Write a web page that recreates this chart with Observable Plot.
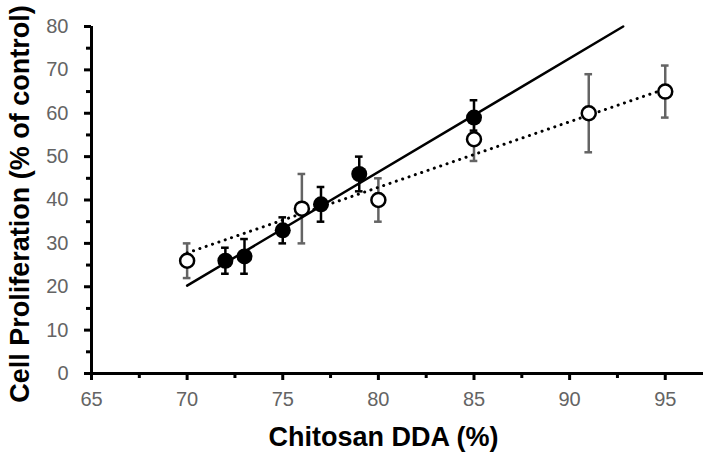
<!DOCTYPE html>
<html><head><meta charset="utf-8">
<script src="https://cdn.jsdelivr.net/npm/d3@7"></script>
<script src="https://cdn.jsdelivr.net/npm/@observablehq/plot@0.6"></script>
<style>html,body{margin:0;padding:0;background:#fff;}</style>
</head><body><div id="chart"></div>
<script>
// Filled circles (solid fit)
const filledDDA = [72, 73, 75, 77, 79, 85];
const filledProlif = [26, 27, 33, 39, 46, 59];
const filledLow = [23, 23, 30, 35, 42, 56];
const filledHigh = [29, 31, 36, 43, 50, 63];
// Open circles (dotted fit)
const openDDA = [70, 76, 80, 85, 91, 95];
const openProlif = [26, 38, 40, 54, 60, 65];
const openLow = [22, 30, 35, 49, 51, 59];
const openHigh = [30, 46, 45, 59, 69, 71];
// Trend lines
const trendFilledX = [70, 92.8];
const trendFilledY = [20.25, 80];
const trendOpenX = [70, 95];
const trendOpenY = [27.8, 65.6];
// Ticks
const xTicks = [65, 70, 75, 80, 85, 90, 95];
const xMinor = [67.5, 72.5, 77.5, 82.5, 87.5, 92.5];
const yTicks = [0, 10, 20, 30, 40, 50, 60, 70, 80];
const yMinor = [5, 15, 25, 35, 45, 55, 65, 75];
const xTitle = "Chitosan DDA (%)";
const yTitle = "Cell Proliferation (% of control)";

const filled = filledDDA.map((x, i) => ({x, y: filledProlif[i], lo: filledLow[i], hi: filledHigh[i]}));
const open = openDDA.map((x, i) => ({x, y: openProlif[i], lo: openLow[i], hi: openHigh[i]}));
const trendFilled = trendFilledX.map((x, i) => ({x, y: trendFilledY[i]}));
const trendOpen = trendOpenX.map((x, i) => ({x, y: trendOpenY[i]}));
const capHalf = 0.2;
const caps = (data) => data.flatMap(d => [{x: d.x, y: d.lo}, {x: d.x, y: d.hi}]);

const tickGray = "#646464";
const chart = Plot.plot({
  width: 706,
  height: 455,
  marginLeft: 91,
  marginRight: 3,
  marginTop: 26,
  marginBottom: 82,
  style: {fontFamily: "'Liberation Sans', Arial, sans-serif", background: "#fff", color: "#000"},
  x: {domain: [65, 97]},
  y: {domain: [0, 80]},
  marks: [
    // axes (ticks only)
    Plot.axisX({ticks: xTicks, tickSize: 7, strokeWidth: 3, stroke: "#000", text: null, label: null}),
    Plot.axisX({ticks: xMinor, tickSize: 5, strokeWidth: 3, stroke: "#000", text: null, label: null}),
    Plot.axisY({ticks: yTicks, tickSize: 7, strokeWidth: 3, stroke: "#000", text: null, label: null}),
    Plot.axisY({ticks: yMinor, tickSize: 5, strokeWidth: 3, stroke: "#000", text: null, label: null}),
    Plot.ruleY([0], {stroke: "#000", strokeWidth: 3}),
    Plot.ruleX([65], {y1: 0, y2: 80, stroke: "#000", strokeWidth: 3}),
    // tick labels
    Plot.text(xTicks, {x: d => d, y: 0, text: d => String(d), dy: 18, lineAnchor: "top", textAnchor: "middle", fontSize: 20, fill: tickGray}),
    Plot.text(yTicks, {x: 65, y: d => d, text: d => String(d), dx: -23, lineAnchor: "middle", textAnchor: "end", fontSize: 20, fill: tickGray}),
    // error bars
    Plot.ruleX(open, {x: "x", y1: "lo", y2: "hi", stroke: tickGray, strokeWidth: 2.5}),
    Plot.ruleY(caps(open), {y: "y", x1: d => d.x - capHalf, x2: d => d.x + capHalf, stroke: tickGray, strokeWidth: 2.5}),
    Plot.ruleX(filled, {x: "x", y1: "lo", y2: "hi", stroke: "#000", strokeWidth: 2.5}),
    Plot.ruleY(caps(filled), {y: "y", x1: d => d.x - capHalf, x2: d => d.x + capHalf, stroke: "#000", strokeWidth: 2.5}),
    // trend lines
    Plot.line(trendFilled, {x: "x", y: "y", stroke: "#000", strokeWidth: 2.5}),
    Plot.line(trendOpen, {x: "x", y: "y", stroke: "#000", strokeWidth: 3, strokeDasharray: "0.1,6.6", strokeLinecap: "round"}),
    // points
    Plot.dot(open, {x: "x", y: "y", r: 7, fill: "#fff", stroke: "#000", strokeWidth: 2.5}),
    Plot.dot(filled, {x: "x", y: "y", r: 8, fill: "#000", stroke: "none"}),
    // titles
    Plot.text([xTitle], {frameAnchor: "bottom", textAnchor: "middle", dx: -14, dy: 72, lineAnchor: "bottom", fontSize: 27, fontWeight: "bold", fill: "#000"}),
    Plot.text([yTitle], {frameAnchor: "left", textAnchor: "middle", rotate: -90, dx: -63, dy: 4, lineAnchor: "bottom", fontSize: 27, fontWeight: "bold", fill: "#000"})
  ]
});
document.getElementById("chart").appendChild(chart);
</script>
</body></html>
